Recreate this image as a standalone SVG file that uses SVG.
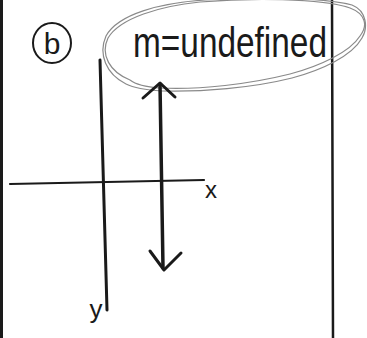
<svg xmlns="http://www.w3.org/2000/svg" width="367" height="338" viewBox="0 0 367 338">
<style>
.ink{fill:none;stroke:#1a1a1a;stroke-linecap:round;stroke-linejoin:round}
.pencil{fill:none;stroke:#8a8a8a;stroke-width:1.2}
.hand{font-family:"Liberation Sans","DejaVu Sans",sans-serif;fill:#1a1a1a;font-weight:normal}
</style>
<rect width="367" height="338" fill="#ffffff"/>
<!-- page borders -->
<line class="ink" x1="1.5" y1="0" x2="1.5" y2="338" stroke-width="3"/>
<line class="ink" x1="332" y1="0" x2="333" y2="338" stroke-width="2.5"/>
<!-- circled b -->
<g id="label-b">
<ellipse class="ink" cx="52" cy="43" rx="19" ry="20" stroke-width="2"/>
<text class="hand" x="52" y="54" font-size="30" text-anchor="middle">b</text>
</g>
<!-- slope note with pencil loop -->
<g id="slope-note">
<path class="pencil" d="M130,80 C110,72 100,55 108,38 C120,18 160,6 200,2 C250,-2 320,-2 350,8 C366,14 368,26 360,36 C350,52 320,66 290,74 C250,84 200,90 160,88 C145,87 135,84 130,80"/>
<path class="pencil" d="M126,84 C106,74 98,54 106,36 C118,14 160,3 205,0 C255,-3 322,-3 352,5 C367,11 368,28 362,38 C352,56 322,70 292,78 C252,88 202,92 162,91 C146,90 134,88 126,84"/>
<text class="hand" x="133" y="57" font-size="42" textLength="194" lengthAdjust="spacingAndGlyphs">m=undefined</text>
</g>
<!-- axes -->
<g id="axes">
<line class="ink" x1="100" y1="60" x2="107" y2="310" stroke-width="3"/>
<line class="ink" x1="10" y1="184" x2="204" y2="180" stroke-width="2.2"/>
<text class="hand" x="211" y="198" font-size="24" text-anchor="middle">x</text>
<text class="hand" x="96" y="318" font-size="26" text-anchor="middle">y</text>
</g>
<!-- vertical line (undefined slope) -->
<g id="connectors">
<line class="ink" x1="160" y1="84" x2="163" y2="268" stroke-width="3.5"/>
<polyline class="ink" points="143,98 160,83 175,97" stroke-width="3"/>
<polyline class="ink" points="150,251 164,270 181,253" stroke-width="3"/>
</g>
</svg>
